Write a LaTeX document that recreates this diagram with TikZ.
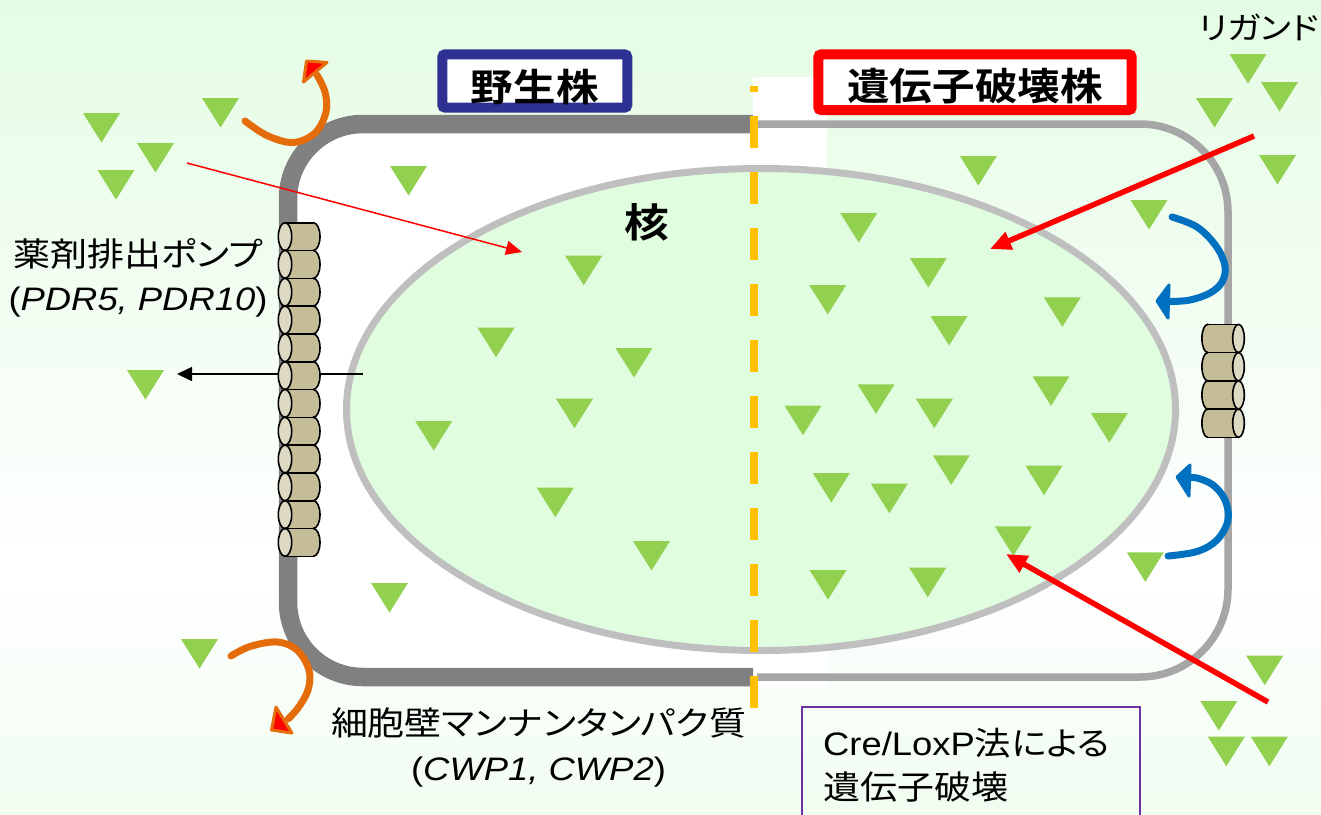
\documentclass[tikz,border=0pt]{standalone}
\usepackage{fontspec}
\setmainfont{Liberation Sans}[FakeStretch=1.12]
\newfontfamily\jp{Noto Sans CJK JP}[FakeStretch=1.12,RawFeature=+palt,BoldFont={Noto Sans CJK JP Bold}]
\usetikzlibrary{arrows.meta}

\definecolor{bgtop}{HTML}{E4FCE4}
\definecolor{bgbot}{HTML}{F1FDF1}
\definecolor{nucfill}{HTML}{E0FDE0}
\definecolor{nucgray}{HTML}{BFBFBF}
\definecolor{wallgray}{HTML}{808080}
\definecolor{thinwall}{HTML}{A6A6A6}
\definecolor{ligandgreen}{HTML}{92D050}
\definecolor{dashorange}{HTML}{FFC000}
\definecolor{wtnavy}{HTML}{2E3192}
\definecolor{kored}{HTML}{FF0000}
\definecolor{flipbend}{HTML}{E46C0A}
\definecolor{flipblue}{HTML}{0070C0}
\definecolor{methodpurple}{HTML}{7030A0}
\definecolor{pumpbody}{HTML}{C4BD97}
\definecolor{pumpcap}{HTML}{DDD9C3}

\tikzset{
  ligand/.style={fill=ligandgreen},
  thickwall/.style={draw=wallgray, line width=18.5pt, fill=white, rounded corners=75pt},
  thinwallstyle/.style={draw=thinwall, line width=7.5pt, rounded corners=88pt},
  nucleus/.style={fill=nucfill, draw=nucgray, line width=7pt},
  divider/.style={draw=dashorange, line width=8pt, dash pattern=on 32pt off 24pt, dash phase=26pt},
  strainbox/.style={fill=white, line width=10pt, rounded corners=3pt, inner sep=0pt},
  titletext/.style={font=\jp\bfseries\fontsize{38}{44}\selectfont, inner sep=0pt},
  jptext/.style={font=\jp\fontsize{33}{38}\selectfont, inner sep=0pt},
  latintext/.style={font=\fontsize{32.5}{38}\selectfont, inner sep=0pt},
  pumpshell/.style={fill=pumpbody, draw=black, line width=1.6pt},
  pumpfill/.style={fill=pumpbody},
  pumpedge/.style={draw=black, line width=1.6pt},
  pumpend/.style={fill=pumpcap, draw=black, line width=1.6pt},
  drugarrow/.style={draw=kored, line width=1.5pt, -{Triangle[length=16pt,width=14pt]}},
  ligandarrow/.style={draw=kored, line width=5.5pt, -{Triangle[length=21pt,width=18pt]}},
  effluxarrow/.style={draw=black, line width=1.5pt, -{Triangle[length=15pt,width=14pt]}},
  bendcurve/.style={draw=flipbend, line width=7pt, line cap=round},
  bendhead/.style={fill=kored, draw=flipbend, line width=3pt, line join=round},
  bluecurve/.style={draw=flipblue, line width=7pt, line cap=round},
  bluehead/.style={fill=flipblue, draw=flipblue, line width=3pt, line join=round},
  methodframe/.style={draw=methodpurple, line width=2pt}
}

\begin{document}
\begin{tikzpicture}[x=1pt, y=-1pt]
\useasboundingbox (0,0) rectangle (1321,814);

% background
\shade[top color=bgtop, bottom color=white] (0,0) rectangle (1321,570);
\shade[top color=white, bottom color=bgbot] (0,570) rectangle (1321,814);

% white strip behind the divider
\fill[white] (753,77) rectangle (827,687);

% cell walls: wild type (left) and disruptant (right)
\path[thickwall] (753,124) -- (288,124) -- (288,677) -- (753,677);
\draw[thinwallstyle] (757,124) -- (1228,124) -- (1228,677) -- (757,677);

% nucleus
\draw[nucleus] (761,409.5) ellipse[x radius=414.5, y radius=241];

% divider between the two halves
\coordinate (divtop) at (754,86);
\coordinate (divbot) at (754,708);
\draw[divider] (divtop) -- (divbot);

% strain labels
\node[strainbox, draw=wtnavy, minimum width=185pt, minimum height=53.4pt] (wtbox) at (534.8,81) {};
\node[titletext, anchor=base] (wttext) at (534.8,101) {野生株};
\node[strainbox, draw=kored, minimum width=313.4pt, minimum height=55.7pt] (kobox) at (975,82.2) {};
\node[titletext, anchor=base] (kotext) at (975,100.5) {遺伝子破壊株};

% ligand molecules
\foreach \tx/\ty in {220.5/98, 101.5/113, 155.5/143, 116/170, 408.5/166, 145.5/370, 389.5/583, 199.5/639,
  583.7/255.7, 496/327.7, 634/348, 574.5/398.7, 433.7/421, 555.3/487.7, 651.5/541,
  978.3/156, 858.7/213, 1149/200, 928.3/258, 827.7/285, 1062.3/297.3, 949/316, 1051/376.3,
  876/384.3, 934.3/398.7, 803/405.7, 1109.3/413, 951.3/455.3, 1044/465.7, 831.3/473,
  889.3/483.7, 1013.3/526.3, 1145.3/552.3, 828/570, 927.7/567.7,
  1264.7/655.7, 1218.8/701, 1226.3/736.7, 1269.3/736.7,
  1248/54, 1279.5/82, 1214.5/98, 1277.5/155}
  \fill[ligand] (\tx-18.5,\ty) -- (\tx+18.5,\ty) -- (\tx,\ty+29.5) -- cycle;

% efflux through the pump
\coordinate (effluxfrom) at (363,374);
\coordinate (effluxto) at (177,374);
\draw[effluxarrow] (effluxfrom) -- (effluxto);

% drug efflux pumps, wild type
\foreach \i in {0,...,11}{
  \pgfmathsetmacro\yt{222.7+27.8*\i}
  \pgfmathsetmacro\yc{\yt+13.9}
  \pgfmathsetmacro\yb{\yt+27.8}
  \draw[pumpshell] (313.3,\yc) ellipse[x radius=6.7, y radius=13.9];
  \fill[pumpfill] (285,\yt) rectangle (313.3,\yb);
  \draw[pumpedge] (285,\yt) -- (313.3,\yt) (285,\yb) -- (313.3,\yb);
  \draw[pumpend] (285,\yc) ellipse[x radius=6.7, y radius=13.9];
}

% drug efflux pumps, disruptant
\foreach \i in {0,...,3}{
  \pgfmathsetmacro\yt{324.3+28.25*\i}
  \pgfmathsetmacro\yc{\yt+14.125}
  \pgfmathsetmacro\yb{\yt+28.25}
  \draw[pumpshell] (1207.7,\yc) ellipse[x radius=5.8, y radius=14.125];
  \fill[pumpfill] (1207.7,\yt) rectangle (1238.5,\yb);
  \draw[pumpedge] (1207.7,\yt) -- (1238.5,\yt) (1207.7,\yb) -- (1238.5,\yb);
  \draw[pumpend] (1238.5,\yc) ellipse[x radius=5.8, y radius=14.125];
}

% ligand entry arrows
\coordinate (drugin) at (187,163);
\coordinate (drugtarget) at (522,252);
\draw[drugarrow] (drugin) -- (drugtarget);
\coordinate (ligandinA) at (1254,136);
\coordinate (ligandtargetA) at (990,249);
\draw[ligandarrow] (ligandinA) -- (ligandtargetA);
\coordinate (ligandinB) at (1268,702);
\coordinate (ligandtargetB) at (1006,554);
\draw[ligandarrow] (ligandinB) -- (ligandtargetB);

% deflected ligands at the thick wall
\draw[bendcurve] plot[smooth, tension=0.6] coordinates {(245,121) (267,135.5) (293,142.5) (315,133) (326,112) (325,92) (317,75)};
\filldraw[bendhead] (306.5,61) -- (327,62.5) -- (303.5,82) -- cycle;
\draw[bendcurve] plot[smooth, tension=0.6] coordinates {(231,656) (250,646.5) (277,642) (297,650) (309,670) (308,690) (298,708) (288,719)};
\filldraw[bendhead] (276,707) -- (292,733) -- (271.5,730) -- cycle;

% ligands passing the thin wall
\draw[bluecurve] plot[smooth, tension=0.6] coordinates {(1172,217) (1197,227) (1216,246) (1225,266) (1222,282) (1210,293) (1190,300) (1170,301.5)};
\filldraw[bluehead] (1157,301) -- (1169,285) -- (1168,318) -- cycle;
\draw[bluecurve] plot[smooth, tension=0.6] coordinates {(1168,556) (1197,551.5) (1217,540) (1228,520) (1225,500) (1213,485) (1197,478) (1188,478)};
\filldraw[bluehead] (1177,477) -- (1190,465) -- (1189,496) -- cycle;

% labels
\node[titletext, font=\jp\bfseries\fontsize{40}{44}\selectfont, anchor=base] (nuclabel) at (647,237) {核};
\node[jptext, anchor=base] (pumplabel) at (138,266) {薬剤排出ポンプ};
\node[latintext, anchor=base] (pumpgenes) at (138,310) {(\textit{PDR5, PDR10})};
\node[jptext, anchor=base] (cwplabel) at (538.5,735) {細胞壁マンナンタンパク質};
\node[latintext, anchor=base] (cwpgenes) at (538.5,780) {(\textit{CWP1, CWP2})};
\node[jptext, font=\jp\fontsize{31}{36}\selectfont, anchor=base east] (ligandlabel) at (1319,39) {リガンド};

% method note
\draw[methodframe] (802,707) rectangle (1140,840);
\node[latintext, anchor=base west] (methodA) at (823,755) {Cre/LoxP{\jp 法による}};
\node[jptext, anchor=base west] (methodB) at (823,799) {遺伝子破壊};
\end{tikzpicture}
\end{document}
